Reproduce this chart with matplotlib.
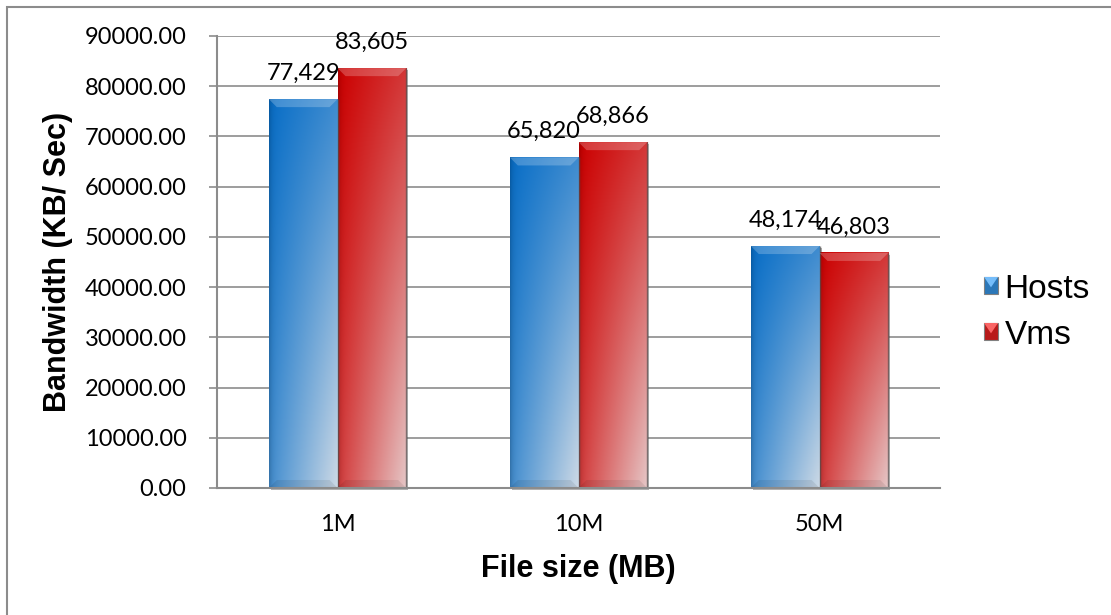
import matplotlib
matplotlib.use('Agg')
import matplotlib.pyplot as plt
import numpy as np
from matplotlib.patches import Rectangle, Polygon, Patch
from matplotlib.legend_handler import HandlerBase
from matplotlib import transforms

# bandwidth per file size, hosts vs vms
categories = ['1M', '10M', '50M']
hosts = [77429, 65820, 48174]
vms = [83605, 68866, 46803]
yticks = [0, 10000, 20000, 30000, 40000, 50000, 60000, 70000, 80000, 90000]
series_names = ['Hosts', 'Vms']

blue_dark = np.array([0.03, 0.43, 0.78])
blue_light = np.array([0.80, 0.85, 0.90])
red_dark = np.array([0.80, 0.0, 0.0])
red_light = np.array([0.90, 0.78, 0.78])

GRID = '#8c8c8c'
TICK_FONT = 'Lato'
LABEL_FONT = 'Liberation Sans'
TICK_SIZE = 17

fig = plt.figure(figsize=(11.11, 6.15), dpi=100)
ax = fig.add_axes([217 / 1111, 1 - 488 / 615, (940 - 217) / 1111, (488 - 36) / 615])

ax.set_xlim(-0.5, len(categories) - 0.5)
ax.set_ylim(0, 90000)

# pixel -> data scale, used for the bevel sizes
sx = (len(categories)) / ax.bbox.width
sy = 90000 / ax.bbox.height

bar_w = 0.285


def gradient_bar(x0, h, dark, light):
    nx, ny = 80, 80
    tx = np.linspace(0, 1, nx)[None, :]
    ty = np.linspace(0, 1, ny)[:, None]
    m = 0.28 * tx + 0.3 * ty + 0.42 * tx * ty
    img = dark[None, None, :] * (1 - m[..., None]) + light[None, None, :] * m[..., None]
    # slightly darker left edge
    img = img * (1 - 0.18 * np.exp(-tx / 0.04))[..., None]
    img = np.clip(img, 0, 1)

    # drop shadow offset to the lower right
    shadow_tr = transforms.offset_copy(ax.transData, fig=fig, x=2, y=-2, units='dots')
    ax.add_patch(Rectangle((x0, 0), bar_w, h, facecolor='#555555', alpha=0.45,
                           edgecolor='none', transform=shadow_tr, zorder=2, clip_on=False))

    ax.imshow(img, extent=(x0, x0 + bar_w, 0, h), aspect='auto', origin='upper',
              interpolation='bilinear', zorder=3)

    bx = 8 * sx
    by = 8 * sy
    x1 = x0 + bar_w
    # top bevel highlight
    ax.add_patch(Polygon([(x0, h), (x1, h), (x1 - bx, h - by), (x0 + bx, h - by)],
                         closed=True, facecolor='white', alpha=0.22, edgecolor='none', zorder=4))
    # bottom bevel shade
    ax.add_patch(Polygon([(x0, 0), (x1, 0), (x1 - bx, by), (x0 + bx, by)],
                         closed=True, facecolor='black', alpha=0.08, edgecolor='none', zorder=4))
    # right edge
    ax.plot([x1, x1], [0, h], color='#505050', lw=1.0, alpha=0.7, zorder=4, solid_capstyle='butt')


x = np.arange(len(categories))
for i in range(len(categories)):
    gradient_bar(x[i] - bar_w, hosts[i], blue_dark, blue_light)
    gradient_bar(x[i], vms[i], red_dark, red_light)
    ax.annotate(f'{hosts[i]:,}', (x[i] - bar_w / 2, hosts[i]), xytext=(0, 11),
                textcoords='offset points', ha='center', va='bottom',
                fontsize=TICK_SIZE, family=TICK_FONT, zorder=6)
    ax.annotate(f'{vms[i]:,}', (x[i] + bar_w / 2, vms[i]), xytext=(0, 11),
                textcoords='offset points', ha='center', va='bottom',
                fontsize=TICK_SIZE, family=TICK_FONT, zorder=6)

ax.set_xlim(-0.5, len(categories) - 0.5)
ax.set_ylim(0, 90000)

ax.set_yticks(yticks)
ax.set_yticklabels([f'{v:.2f}' for v in yticks], fontsize=TICK_SIZE, family=TICK_FONT)
ax.set_xticks(x)
ax.set_xticklabels(categories, fontsize=TICK_SIZE, family=TICK_FONT)
ax.tick_params(axis='y', length=6, width=1.2, color=GRID, pad=16)
ax.tick_params(axis='x', length=0, pad=19)

ax.grid(axis='y', color=GRID, lw=1.2, zorder=1)
ax.set_axisbelow(True)
for side in ['top', 'right']:
    ax.spines[side].set_visible(False)
for side in ['left', 'bottom']:
    ax.spines[side].set_color(GRID)
    ax.spines[side].set_linewidth(1.5)
ax.spines['bottom'].set_zorder(5)

fig.text(58 / 1111, 1 - 262 / 615, 'Bandwidth (KB/ Sec)', rotation=90, ha='center', va='center',
         fontsize=22, fontweight='bold', family=LABEL_FONT)
fig.text(578 / 1111, 1 - 577 / 615, 'File size (MB)', ha='center', va='baseline',
         fontsize=22, fontweight='bold', family=LABEL_FONT)


class BevelSquare(HandlerBase):
    def create_artists(self, legend, orig_handle, xdescent, ydescent, width, height, fontsize, trans):
        x0, y0 = -xdescent, -ydescent
        fc = np.array(orig_handle.get_facecolor()[:3])
        body = Rectangle((x0, y0), width, height, facecolor=fc * 0.85, edgecolor='#808080',
                         lw=0.8, transform=trans)
        top = Polygon([(x0, y0 + height), (x0 + width, y0 + height), (x0 + width / 2, y0 + height * 0.4)],
                      closed=True, facecolor=np.clip(fc * 0.8 + 0.3, 0, 1), edgecolor='none', transform=trans)
        return [body, top]


handles = [Patch(facecolor=[0.2, 0.55, 0.85]), Patch(facecolor=[0.85, 0.12, 0.12])]
fig.legend(handles, series_names, loc='center left', bbox_to_anchor=(984 / 1111, 1 - 312 / 615),
           bbox_transform=fig.transFigure, frameon=False, borderpad=0, borderaxespad=0,
           handlelength=0.42, handleheight=0.42, handletextpad=0.2, labelspacing=0.45,
           prop={'family': LABEL_FONT, 'size': 24}, handler_map={Patch: BevelSquare()})

# outer chart border
fig.patches.append(Rectangle((6.5 / 1111, -0.5), 1.5, 1.5 - 6.5 / 615, transform=fig.transFigure,
                             facecolor='none', edgecolor=GRID, lw=1.5))

fig.savefig('out.png', dpi=100)
